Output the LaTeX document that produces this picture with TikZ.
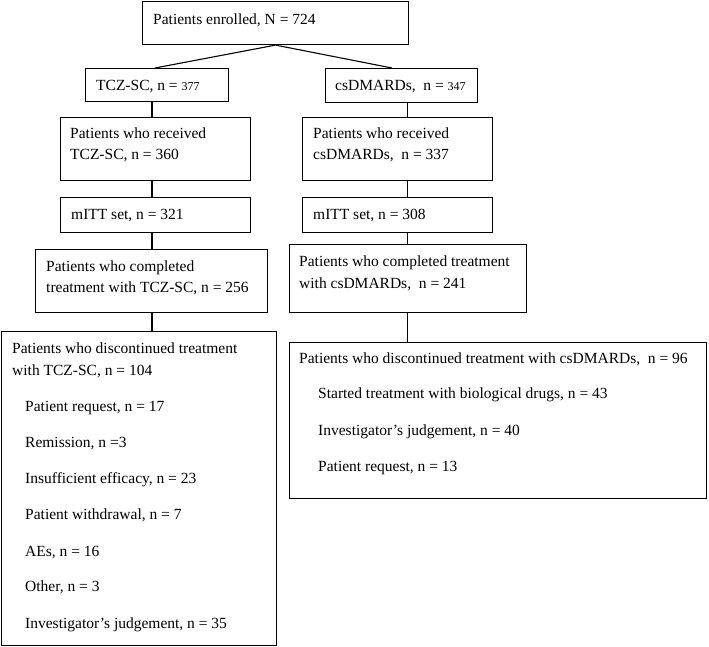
\documentclass[tikz,border=0pt]{standalone}
\usepackage{fontspec}
\setmainfont{Liberation Serif}
\begin{document}
\begin{tikzpicture}[x=1pt,y=-1pt,
  box/.style={draw, line width=1.1pt, inner sep=0pt, anchor=north west},
  txt/.style={anchor=base west, inner sep=0pt, font=\fontsize{15.5}{18}\selectfont},
  conn/.style={line width=1.1pt}]
\useasboundingbox (0,0) rectangle (709,647);
\newcommand{\sm}[1]{{\fontsize{12}{14}\selectfont #1}}
% boxes
\node[box, minimum width=266pt, minimum height=43pt] (enr) at (142,1) {};
\node[box, minimum width=143pt, minimum height=33pt] (tcz) at (85,68) {};
\node[box, minimum width=152pt, minimum height=34pt] (csd) at (325,68) {};
\node[box, minimum width=190pt, minimum height=63pt] (rec1) at (60,117) {};
\node[box, minimum width=190pt, minimum height=63pt] (rec2) at (302,117) {};
\node[box, minimum width=190pt, minimum height=35pt] (mitt1) at (60,197) {};
\node[box, minimum width=190pt, minimum height=35pt] (mitt2) at (302,197) {};
\node[box, minimum width=232pt, minimum height=63pt] (comp1) at (35,249) {};
\node[box, minimum width=237pt, minimum height=68pt] (comp2) at (289,244) {};
\node[box, minimum width=275pt, minimum height=314pt] (disc1) at (1,331) {};
\node[box, minimum width=417pt, minimum height=156pt] (disc2) at (289,342) {};
% texts
\node[txt] (t0) at (153,25) {Patients enrolled, N = 724};
\node[txt] (t1) at (96,91) {TCZ-SC, n = \sm{377}};
\node[txt] (t2) at (335,91) {csDMARDs,\ \ n = \sm{347}};
\node[txt] (t3a) at (70,139) {Patients who received};
\node[txt] (t3b) at (70,160) {TCZ-SC, n = 360};
\node[txt] (t4a) at (313,139) {Patients who received};
\node[txt] (t4b) at (313,160) {csDMARDs,\ \ n = 337};
\node[txt] (t5) at (71,219) {mITT set, n = 321};
\node[txt] (t6) at (313,219) {mITT set, n = 308};
\node[txt] (t7a) at (46,271) {Patients who completed};
\node[txt] (t7b) at (46,292) {treatment with TCZ-SC, n = 256};
\node[txt] (t8a) at (299,266) {Patients who completed treatment};
\node[txt] (t8b) at (299,288) {with csDMARDs,\ \ n = 241};
\node[txt] (t9a) at (12,353) {Patients who discontinued treatment};
\node[txt] (t9b) at (12,375) {with TCZ-SC, n = 104};
\node[txt] (l1) at (25,411) {Patient request, n = 17};
\node[txt] (l2) at (25,447) {Remission, n =3};
\node[txt] (l3) at (25,483) {Insufficient efficacy, n = 23};
\node[txt] (l4) at (25,519) {Patient withdrawal, n = 7};
\node[txt] (l5) at (25,556) {AEs, n = 16};
\node[txt] (l6) at (25,591) {Other, n = 3};
\node[txt] (l7) at (25,628) {Investigator’s judgement, n = 35};
\node[txt] (t10) at (299,363) {Patients who discontinued treatment with csDMARDs,\ \ n = 96};
\node[txt] (r1) at (318,398) {Started treatment with biological drugs, n = 43};
\node[txt] (r2) at (318,435) {Investigator’s judgement, n = 40};
\node[txt] (r3) at (318,471) {Patient request, n = 13};
% connectors
\coordinate (cl) at (152,0);
\coordinate (cr) at (407.5,0);
\draw[conn] (enr.south) -- (tcz.north -| 155,0);
\draw[conn] (enr.south) -- (csd.north -| 392,0);
\draw[conn] (tcz.south -| cl) -- (rec1.north -| cl);
\draw[conn] (rec1.south -| cl) -- (mitt1.north -| cl);
\draw[conn] (mitt1.south -| cl) -- (comp1.north -| cl);
\draw[conn] (comp1.south -| cl) -- (disc1.north -| cl);
\draw[conn] (csd.south -| cr) -- (rec2.north -| cr);
\draw[conn] (rec2.south -| cr) -- (mitt2.north -| cr);
\draw[conn] (mitt2.south -| cr) -- (comp2.north -| cr);
\draw[conn] (comp2.south -| cr) -- (disc2.north -| cr);
\end{tikzpicture}
\end{document}
